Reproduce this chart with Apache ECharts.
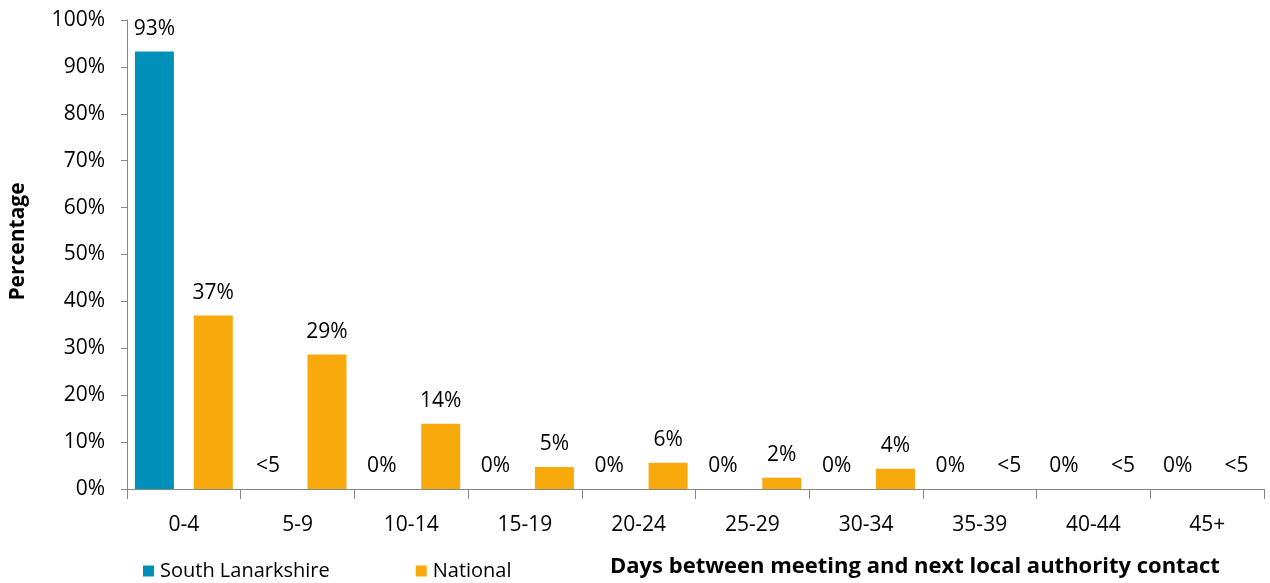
<!DOCTYPE html>
<html><head><meta charset="utf-8">
<script src="https://cdn.jsdelivr.net/npm/echarts@6/dist/echarts.min.js"></script>
<style>html,body{margin:0;padding:0;background:#fff}#c{width:1270px;height:583px}</style>
</head><body><div id="c"></div>
<script>
var categories = ['0-4','5-9','10-14','15-19','20-24','25-29','30-34','35-39','40-44','45+'];
var southLanarkshire = [93.3, 0, 0, 0, 0, 0, 0, 0, 0, 0];
var southLanarkshireLabels = ['93%','<5','0%','0%','0%','0%','0%','0%','0%','0%'];
var national = [37.0, 28.7, 13.9, 4.7, 5.6, 2.4, 4.3, 0, 0, 0];
var nationalLabels = ['37%','29%','14%','5%','6%','2%','4%','<5','<5','<5'];
var yTicks = [0,10,20,30,40,50,60,70,80,90,100];

var FONT = '"Open Sans", sans-serif';
var chart = echarts.init(document.getElementById('c'));
function lbl(arr){
  return {show:true, position:'top', distance:12, color:'#000', fontSize:21, fontFamily:FONT,
    formatter:function(p){return arr[p.dataIndex];}};
}
chart.setOption({
  animation:false,
  grid:{left:122, right:6, top:20, bottom:94, containLabel:false},
  title:{text:'Days between meeting and next local authority contact', left:605, top:551,
    textStyle:{fontSize:22, fontWeight:'bold', color:'#000', fontFamily:FONT}},
  legend:{left:138, top:556, itemWidth:11, itemHeight:11, itemGap:86, icon:'rect',
    textStyle:{fontSize:20, color:'#000', fontFamily:FONT, padding:[0,0,0,1]},
    data:['South Lanarkshire','National']},
  xAxis:{type:'category', data:categories,
    axisLine:{lineStyle:{color:'#868686', width:1}},
    axisTick:{show:true, length:10, lineStyle:{color:'#868686'}},
    axisLabel:{color:'#000', fontSize:21, fontFamily:FONT, margin:26}},
  yAxis:{type:'value', min:yTicks[0], max:yTicks[yTicks.length-1], interval:10,
    name:'Percentage', nameLocation:'middle', nameGap:98, nameRotate:90,
    nameTextStyle:{fontSize:21, fontWeight:'bold', color:'#000', fontFamily:FONT, padding:[0,0,0,26]},
    axisLine:{show:true, lineStyle:{color:'#868686', width:1}},
    axisTick:{show:true, length:6, lineStyle:{color:'#868686'}},
    splitLine:{show:false},
    axisLabel:{color:'#000', fontSize:21, fontFamily:FONT, margin:22, formatter:'{value}%'}},
  series:[
    {name:'South Lanarkshire', type:'bar', data:southLanarkshire, barWidth:39, barGap:'51%',
      itemStyle:{color:'#0090BA'}, label:lbl(southLanarkshireLabels)},
    {name:'National', type:'bar', data:national, barWidth:39,
      itemStyle:{color:'#F8A90C'}, label:lbl(nationalLabels)}
  ]
});
</script></body></html>
